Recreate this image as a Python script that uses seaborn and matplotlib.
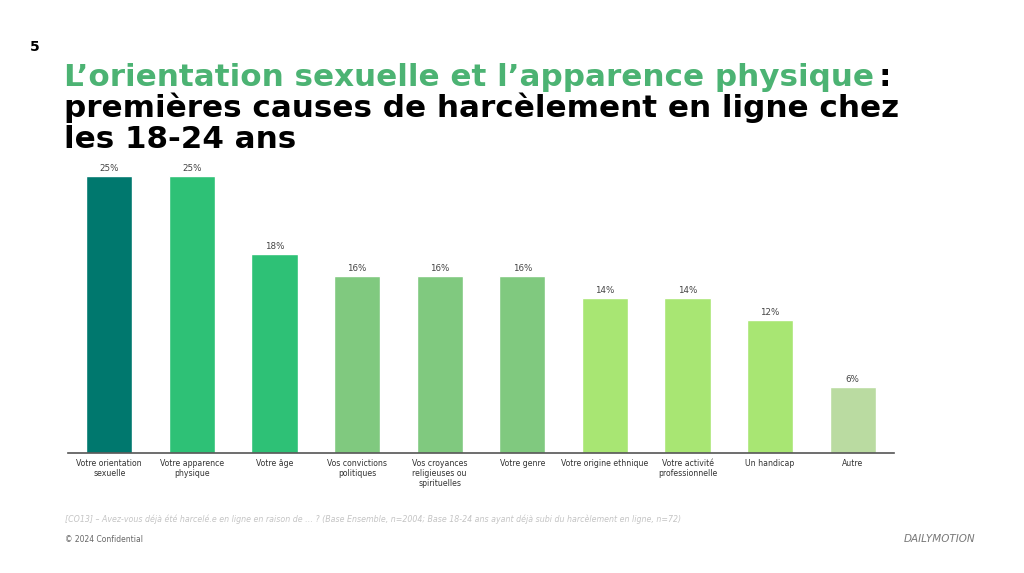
import matplotlib
matplotlib.use("Agg")
import matplotlib.pyplot as plt
import seaborn as sns
import pandas as pd

categories = ["Votre orientation\nsexuelle", "Votre apparence\nphysique", "Votre âge",
              "Vos convictions\npolitiques", "Vos croyances\nreligieuses ou\nspirituelles",
              "Votre genre", "Votre origine ethnique", "Votre activité\nprofessionnelle",
              "Un handicap", "Autre"]
values = [25, 25, 18, 16, 16, 16, 14, 14, 12, 6]
labels = ["25%", "25%", "18%", "16%", "16%", "16%", "14%", "14%", "12%", "6%"]
colors = ["#00786E", "#2EC176", "#2EC176", "#80C97F", "#80C97F", "#80C97F",
          "#A8E673", "#A8E673", "#A8E673", "#BADBA1"]

df = pd.DataFrame({"cat": categories, "val": values})

sns.set_theme(style="white")
plt.rcParams['font.family'] = ['DejaVu Sans']

fig = plt.figure(figsize=(10.24, 5.73), dpi=100)
ax = fig.add_axes([68/1024, 120/573, 826/1024, 288/573])
sns.barplot(data=df, x="cat", y="val", hue="cat", palette=colors, legend=False,
            width=0.56, ax=ax, saturation=1)
ax.set_xlim(-0.5, 9.5)
ax.set_ylim(0, 26)
for i, (v, l) in enumerate(zip(values, labels)):
    ax.text(i, v + 0.25, l, ha="center", va="bottom", fontsize=6.3, color="#444444")
ax.set_xlabel("")
ax.set_ylabel("")
ax.set_yticks([])
ax.tick_params(axis="x", length=0, pad=4, labelsize=5.6, labelcolor="#333333")
for s in ["top", "right", "left"]:
    ax.spines[s].set_visible(False)
ax.spines["bottom"].set_color("#555555")
ax.spines["bottom"].set_linewidth(1.2)

fig.text(30/1024, 1 - 47/573, "5", fontsize=10, fontweight="bold", color="black",
         va="center", ha="left")
title_fs = 22.3
green = "#4CB373"
t1 = fig.text(64/1024, 1 - 86/573, "L\u2019orientation sexuelle et l\u2019apparence physique",
              fontsize=title_fs, fontweight="bold", color=green, va="baseline")
fig.canvas.draw()
bb = t1.get_window_extent()
fig.text(bb.x1 / 1024 + 0.004, 1 - 86/573, ":", fontsize=title_fs, fontweight="bold",
         color="black", va="baseline")
fig.text(64/1024, 1 - 117/573, "premières causes de harcèlement en ligne chez",
         fontsize=title_fs, fontweight="bold", color="black", va="baseline")
fig.text(64/1024, 1 - 148/573, "les 18-24 ans",
         fontsize=title_fs, fontweight="bold", color="black", va="baseline")

fig.text(65/1024, 1 - 519/573,
         "[CO13] \u2013 Avez-vous déjà été harcelé.e en ligne en raison de \u2026 ? (Base Ensemble, n=2004; Base 18-24 ans ayant déjà subi du harcèlement en ligne, n=72)",
         fontsize=5.7, style="italic", color="#C4C4C4", va="center")
fig.text(65/1024, 1 - 539/573, "© 2024 Confidential", fontsize=5.5, color="#666666", va="center")
fig.text(975/1024, 1 - 539/573, "DAILYMOTION", fontsize=7.5, style="italic", color="#777777",
         va="center", ha="right", family=["Liberation Sans Narrow", "DejaVu Sans"])

fig.savefig("out.png", dpi=100)
